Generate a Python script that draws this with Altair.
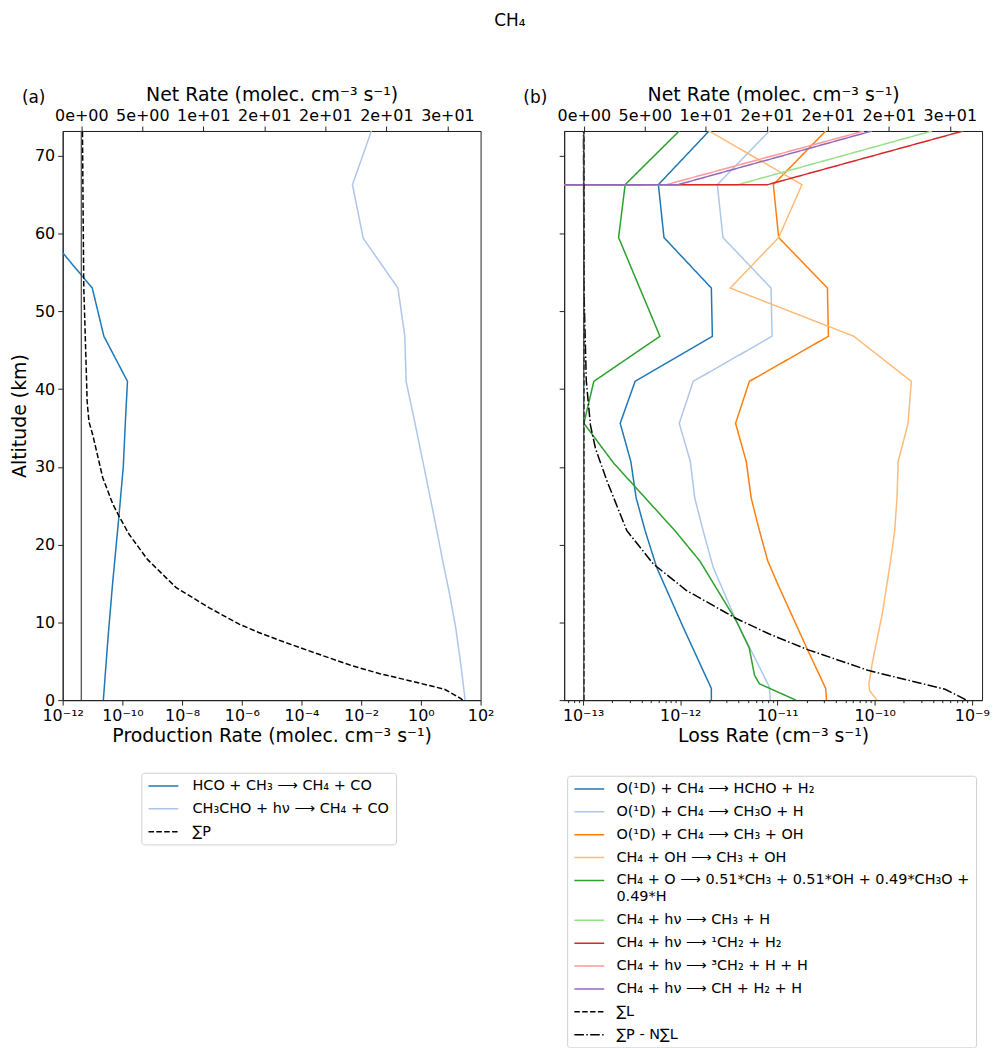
import altair as alt
import pandas as pd

ALT_TOP = 73.2
ALT_TICKS = [0, 10, 20, 30, 40, 50, 60, 70]

# ---------------- Panel (a): production rates ----------------
prod_labels = ["HCO + CH₃ ⟶ CH₄ + CO", "CH₃CHO + hν ⟶ CH₄ + CO", "∑P"]
prod_colors = ["#1f77b4", "#aec7e8", "#000000"]
prod_dashes = [[1, 0], [1, 0], [5.5, 2.4]]

hco_alt = [73.2, 66.3, 59.4, 53.0, 46.8, 41.0, 35.8, 30.0, 23.5, 15.0, 8.0, 0.0]
hco_rate = [2.5e-14, 7.9e-14, 3.9e-13, 9.8e-12, 2.4e-11, 1.48e-10, 1.26e-10,
            1.07e-10, 7.6e-11, 4.7e-11, 3.3e-11, 2.3e-11]

ch3cho_alt = [73.2, 66.3, 59.4, 53.0, 46.8, 41.0, 35.8, 29.8, 23.5, 17.9, 13.7, 9.3, 4.5, 0.5, 0.0]
ch3cho_rate = [0.022, 0.0051, 0.0117, 0.17, 0.29, 0.32, 0.62, 1.3, 2.8, 5.4, 9.1, 14.7, 21.9, 29.3, 30.2]

sumP_alt = [73.2, 60.0, 53.0, 45.0, 38.4, 35.8, 34.1, 28.6, 25.2, 23.7, 21.3, 18.1, 14.5, 11.9,
            9.8, 8.7, 7.5, 6.0, 4.5, 3.4, 2.4, 1.4, 0.2, 0.0]
sumP_rate = [4.6e-12, 4.9e-12, 5.1e-12, 5.9e-12, 6.6e-12, 7.6e-12, 1.02e-11, 2.2e-11, 4.8e-11,
             7.6e-11, 1.7e-10, 6.9e-10, 6.2e-9, 7.9e-8, 7.9e-7, 3.7e-6, 2.5e-5, 3.2e-4, 4.3e-3,
             0.042, 0.54, 6.2, 21.9, 25.0]

netA_alt = [0.0, 73.2]
netA_rate = [0.0, 0.0]

prod_xdomain = [1e-12, 1e2]
prod_tick_exp = [-12, -10, -8, -6, -4, -2, 0, 2]
prod_tick_labels = ["10⁻¹²", "10⁻¹⁰", "10⁻⁸", "10⁻⁶", "10⁻⁴", "10⁻²", "10⁰", "10²"]
netA_domain = [-1.525, 32.72]

# ---------------- Panel (b): loss rates ----------------
loss_labels = [
    "O(¹D) + CH₄ ⟶ HCHO + H₂",
    "O(¹D) + CH₄ ⟶ CH₃O + H",
    "O(¹D) + CH₄ ⟶ CH₃ + OH",
    "CH₄ + OH ⟶ CH₃ + OH",
    "CH₄ + O ⟶ 0.51*CH₃ + 0.51*OH + 0.49*CH₃O + 0.49*H",
    "CH₄ + hν ⟶ CH₃ + H",
    "CH₄ + hν ⟶ ¹CH₂ + H₂",
    "CH₄ + hν ⟶ ³CH₂ + H + H",
    "CH₄ + hν ⟶ CH + H₂ + H",
    "∑L",
    "∑P - N∑L",
]
long_label_lines = ["CH₄ + O ⟶ 0.51*CH₃ + 0.51*OH + 0.49*CH₃O +", "0.49*H"]
loss_colors = ["#1f77b4", "#aec7e8", "#ff7f0e", "#ffbb78", "#2ca02c", "#98df8a",
               "#d62728", "#ff9896", "#9467bd", "#000000", "#000000"]
loss_dashes = [[1, 0]] * 9 + [[5.5, 2.4], [9.6, 2.4, 1.5, 2.4]]

o1d_hcho_alt = [73.2, 66.3, 59.5, 53.0, 46.8, 41.0, 35.6, 30.7, 26.0, 21.8, 17.1, 9.4, 1.5, 0.0]
o1d_hcho_rate = [1.98e-12, 5.96e-13, 6.8e-13, 2.09e-12, 2.14e-12, 3.43e-13, 2.41e-13, 3.10e-13,
                 3.52e-13, 4.35e-13, 5.71e-13, 1.07e-12, 2.09e-12, 2.09e-12]

o1d_ch3o_alt = [73.2, 66.3, 59.5, 53.0, 46.8, 41.0, 35.6, 30.7, 26.0, 21.8, 17.1, 10.2, 5.1, 1.7, 0.0]
o1d_ch3o_rate = [8.26e-12, 2.41e-12, 2.75e-12, 8.59e-12, 8.81e-12, 1.36e-12, 9.77e-13, 1.27e-12,
                 1.41e-12, 1.72e-12, 2.18e-12, 3.77e-12, 6.04e-12, 8.26e-12, 8.45e-12]

o1d_ch3_alt = [73.2, 66.3, 59.5, 53.0, 46.8, 41.0, 35.6, 30.7, 26.0, 21.8, 17.9, 14.9, 6.5, 1.5, 0.0]
o1d_ch3_rate = [3.14e-11, 9.08e-12, 1.03e-11, 3.27e-11, 3.35e-11, 5.15e-12, 3.71e-12, 4.78e-12,
                5.37e-12, 6.53e-12, 7.96e-12, 1.01e-11, 2.04e-11, 3.14e-11, 3.20e-11]

oh_alt = [73.2, 66.3, 59.5, 53.0, 46.8, 41.0, 35.6, 30.7, 26.0, 21.8, 17.9, 11.1, 4.7, 2.0, 1.2, 0.0]
oh_rate = [1.98e-12, 1.79e-11, 1.03e-11, 3.27e-12, 6.1e-11, 2.39e-10, 2.21e-10, 1.75e-10,
           1.70e-10, 1.61e-10, 1.46e-10, 1.20e-10, 9.44e-11, 8.73e-11, 8.9e-11, 1.06e-10]

o_alt = [73.2, 66.3, 59.5, 46.8, 41.0, 35.6, 30.5, 21.8, 17.9, 10.2, 6.7, 3.2, 2.1, 0.0]
o_rate = [9.77e-13, 2.71e-13, 2.32e-13, 6.18e-13, 1.29e-13, 1.02e-13, 2.06e-13, 8.81e-13,
          1.59e-12, 3.77e-12, 5.13e-12, 5.81e-12, 6.53e-12, 1.55e-11]

hv_ch3_alt = [59.5, 66.3, 73.2]
hv_ch3_rate = [1e-300, 3.93e-12, 3.89e-10]
hv_1ch2_alt = [59.5, 66.3, 73.2]
hv_1ch2_rate = [1e-300, 7.96e-12, 8.18e-10]
hv_3ch2_alt = [59.5, 66.3, 73.2]
hv_3ch2_rate = [1e-300, 7.2e-13, 7.8e-11]
hv_ch_alt = [59.5, 66.3, 73.2]
hv_ch_rate = [1e-300, 9.5e-13, 9.4e-11]

sumL_alt = [0.0, 73.2]
sumL_rate = [1.02e-13, 1.02e-13]

pnl_alt = [73.2, 53.0, 41.0, 35.4, 32.4, 28.2, 21.8, 17.5, 14.1, 10.5, 8.5, 6.5, 3.8, 1.4, 0.1, 0.0]
pnl_rate = [1.01e-13, 1.02e-13, 1.08e-13, 1.19e-13, 1.34e-13, 1.76e-13, 2.82e-13, 5.30e-13,
            1.16e-12, 3.77e-12, 8.26e-12, 2.04e-11, 8.73e-11, 5.32e-10, 8.51e-10, 8.6e-10]

netB_alt = [0.0, 73.2]
netB_rate = [0.0, 0.0]

loss_xdomain = [10 ** -13.1945, 10 ** -8.894]
loss_tick_exp = [-13, -12, -11, -10, -9]
loss_tick_labels = ["10⁻¹³", "10⁻¹²", "10⁻¹¹", "10⁻¹⁰", "10⁻⁹"]
netB_domain = [-1.606, 32.64]

NET_TICKS = [0, 5, 10, 15, 20, 25, 30]
NET_TICK_LABELS = ["0e+00", "5e+00", "1e+01", "2e+01", "2e+01", "2e+01", "3e+01"]

FONT = "DejaVu Sans"


def long_df(items):
    rows = []
    for lab, alts, vals in items:
        for a, v in zip(alts, vals):
            rows.append({"series": lab, "alt": a, "rate": v})
    return pd.DataFrame(rows)


def net_df(alts, vals):
    return pd.DataFrame({"alt": alts, "net": vals})


def js_arr(items, quote=True):
    if quote:
        return "[" + ",".join("'" + str(s) + "'" for s in items) + "]"
    return "[" + ",".join(repr(s) for s in items) + "]"


def log_label_expr(exps, labels):
    e = "round(log(datum.value)/LN10)"
    major = f"abs(log(datum.value)/LN10 - {e}) < 0.001"
    ex = js_arr(exps, quote=False)
    return f"({major}) && indexof({ex}, {e}) >= 0 ? {js_arr(labels)}[indexof({ex}, {e})] : ''"


MAJOR_TEST = "abs(log(datum.value)/LN10 - round(log(datum.value)/LN10)) < 0.001"

net_expr = (f"indexof({js_arr(NET_TICKS, quote=False)}, datum.value) >= 0 ? "
            f"{js_arr(NET_TICK_LABELS)}[indexof({js_arr(NET_TICKS, quote=False)}, datum.value)] : ''")

legend_label_expr = (f"datum.label == '{loss_labels[4]}' ? {js_arr(long_label_lines)} : datum.label")


def make_legend(x, y, label_offset, label_expr=None):
    kw = dict(title=None, orient="none", legendX=x, legendY=y,
              symbolType="M-3,0H3", symbolSize=100, symbolStrokeWidth=1.5,
              symbolOffset=9, labelOffset=label_offset,
              labelFont=FONT, labelFontSize=14.5, labelColor="#000", labelLimit=700,
              padding=6, strokeColor="#d0d0d0", fillColor="white", cornerRadius=3,
              rowPadding=8)
    if label_expr:
        kw["labelExpr"] = label_expr
    return alt.Legend(**kw)


def panel(df, labels, colors, dashes, xdomain, xaxis, ndf, ndomain, tag, legend, show_y):
    yscale = alt.Scale(domain=[0, ALT_TOP], nice=False, zero=False)
    yaxis = alt.Axis(values=ALT_TICKS, title="Altitude (km)" if show_y else None,
                     labels=show_y, labelPadding=3, titlePadding=5)
    yenc = alt.Y("alt:Q", scale=yscale, axis=yaxis)
    xenc = alt.X("rate:Q", scale=alt.Scale(type="log", domain=xdomain, nice=False, zero=False),
                 axis=xaxis)
    color = alt.Color("series:N", scale=alt.Scale(domain=labels, range=colors), legend=legend)
    dash = alt.StrokeDash("series:N", scale=alt.Scale(domain=labels, range=dashes), legend=legend)
    layers = [
        alt.Chart()
        .transform_filter(alt.FieldEqualPredicate(field="series", equal=lab))
        .mark_line(clip=True, strokeWidth=1.5)
        .encode(x=xenc, y=yenc, color=color, strokeDash=dash, order=alt.Order("alt:Q"))
        for lab in labels
    ]
    inner = alt.layer(*layers, data=df)
    net = alt.Chart(ndf).mark_line(clip=True, color="#444444", strokeWidth=1.2).encode(
        x=alt.X("net:Q", scale=alt.Scale(domain=ndomain, nice=False, zero=False),
                axis=alt.Axis(orient="top", values=NET_TICKS, labelExpr=net_expr,
                              title="Net Rate (molec. cm⁻³ s⁻¹)", labelFlush=False,
                              labelOverlap=False, labelPadding=3, titlePadding=3)),
        y=yenc,
        order=alt.Order("alt:Q"),
    )
    tag_text = alt.Chart(pd.DataFrame({"t": [tag]})).mark_text(
        align="left", baseline="middle", fontSize=17, font=FONT, color="#000"
    ).encode(text="t:N", x=alt.value(-41), y=alt.value(-33))
    return alt.layer(inner, net, tag_text).resolve_scale(x="independent").properties(
        width=420, height=572)


prod_df = long_df([
    (prod_labels[0], hco_alt, hco_rate),
    (prod_labels[1], ch3cho_alt, ch3cho_rate),
    (prod_labels[2], sumP_alt, sumP_rate),
])

loss_df = long_df([
    (loss_labels[0], o1d_hcho_alt, o1d_hcho_rate),
    (loss_labels[1], o1d_ch3o_alt, o1d_ch3o_rate),
    (loss_labels[2], o1d_ch3_alt, o1d_ch3_rate),
    (loss_labels[3], oh_alt, oh_rate),
    (loss_labels[4], o_alt, o_rate),
    (loss_labels[5], hv_ch3_alt, hv_ch3_rate),
    (loss_labels[6], hv_1ch2_alt, hv_1ch2_rate),
    (loss_labels[7], hv_3ch2_alt, hv_3ch2_rate),
    (loss_labels[8], hv_ch_alt, hv_ch_rate),
    (loss_labels[9], sumL_alt, sumL_rate),
    (loss_labels[10], pnl_alt, pnl_rate),
])

prod_axis = alt.Axis(values=[10.0 ** e for e in prod_tick_exp],
                     labelExpr=log_label_expr(prod_tick_exp, prod_tick_labels),
                     title="Production Rate (molec. cm⁻³ s⁻¹)", labelFlush=False,
                     labelOverlap=False, labelPadding=2, titlePadding=4)

loss_ticks = []
for e in range(-14, -8):
    for k in range(1, 10):
        v = k * 10.0 ** e
        if loss_xdomain[0] <= v <= loss_xdomain[1]:
            loss_ticks.append(v)

loss_axis = alt.Axis(values=loss_ticks,
                     labelExpr=log_label_expr(loss_tick_exp, loss_tick_labels),
                     tickSize={"condition": {"test": MAJOR_TEST, "value": 5}, "value": 2.5},
                     title="Loss Rate (cm⁻³ s⁻¹)", labelFlush=False,
                     labelOverlap=False, labelPadding=2, titlePadding=4)

panel_a = panel(prod_df, prod_labels, prod_colors, prod_dashes, prod_xdomain, prod_axis,
                net_df(netA_alt, netA_rate), netA_domain, "(a)", make_legend(79, 645, 22), True)
panel_b = panel(loss_df, loss_labels, loss_colors, loss_dashes, loss_xdomain, loss_axis,
                net_df(netB_alt, netB_rate), netB_domain, "(b)",
                make_legend(3, 648, 20, legend_label_expr), False)

chart = (
    alt.hconcat(panel_a, panel_b, spacing=84, bounds="flush")
    .resolve_scale(color="independent", strokeDash="independent")
    .properties(
        title=alt.TitleParams(text="CH₄", fontSize=17, fontWeight="normal", font=FONT,
                              anchor="middle", offset=55, dx=10, color="#000"),
        padding={"left": 10, "top": 9, "right": 5, "bottom": 5},
    )
    .configure(font=FONT)
    .configure_view(stroke="#222222", strokeWidth=1)
    .configure_axis(labelFont=FONT, titleFont=FONT, labelFontSize=16, titleFontSize=19,
                    titleFontWeight="normal", labelColor="#000", titleColor="#000",
                    domainColor="#222222", tickColor="#222222", tickSize=5, grid=False,
                    domainWidth=1, tickWidth=1)
)

chart.save("out.html", embed_options={"renderer": "svg", "actions": False})
